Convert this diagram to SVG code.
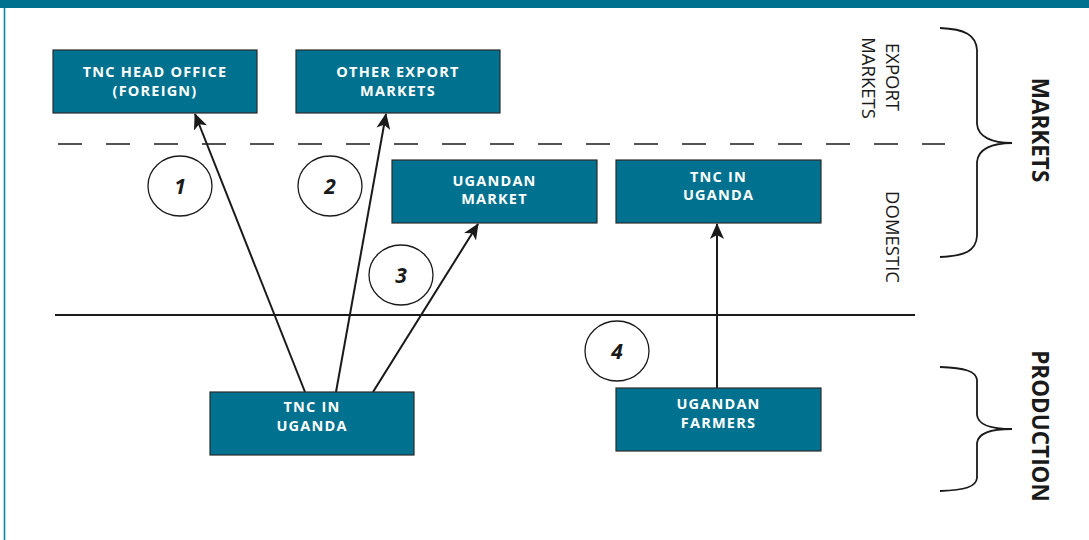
<svg xmlns="http://www.w3.org/2000/svg" width="1089" height="540" viewBox="0 0 1089 540">
<style>
.box rect{fill:#00728f;stroke:#2b2b2b;stroke-width:1.2}
.box text{fill:#fff;font-family:"Open Sans","Noto Sans",sans-serif;font-weight:700;font-size:14.5px;letter-spacing:1.2px;text-anchor:middle}
.num ellipse{fill:#fff;stroke:#1a1a1a;stroke-width:1.3}
.num text{font-family:"Open Sans","Noto Sans",sans-serif;font-weight:700;font-style:italic;font-size:21px;fill:#1a1a1a;text-anchor:middle}
.conn line{stroke:#1a1a1a;stroke-width:2}
.side{font-family:"Open Sans","Noto Sans",sans-serif;font-size:18.5px;fill:#1a1a1a;text-anchor:middle}
.big{font-family:"Open Sans","Noto Sans",sans-serif;font-weight:700;font-size:22.5px;fill:#1a1a1a;text-anchor:middle}
.brace{fill:none;stroke:#1a1a1a;stroke-width:1.8}
</style>
<defs>
<marker id="ah" viewBox="0 0 16 14" refX="15" refY="7" markerWidth="16" markerHeight="14" markerUnits="userSpaceOnUse" orient="auto">
<path d="M0,0 L16,7 L0,14 L4,7 Z" fill="#1a1a1a"/>
</marker>
</defs>
<rect x="0" y="0" width="1089" height="540" fill="#fff"/>
<rect x="0" y="0" width="1089" height="8" fill="#00728f"/>
<line x1="4.5" y1="8" x2="4.5" y2="540" stroke="#0a86a8" stroke-width="1.6"/>
<line x1="58" y1="144" x2="945" y2="144" stroke="#1a1a1a" stroke-width="1.6" stroke-dasharray="24 24"/>
<line x1="55" y1="315" x2="915" y2="315" stroke="#1a1a1a" stroke-width="1.8"/>
<g id="connectors" class="conn">
<line x1="305" y1="392" x2="195" y2="114" marker-end="url(#ah)"/>
<line x1="336" y1="392" x2="386" y2="114" marker-end="url(#ah)"/>
<line x1="373" y1="392" x2="478" y2="224" marker-end="url(#ah)"/>
<line x1="717" y1="388" x2="717" y2="224" marker-end="url(#ah)"/>
</g>
<g id="tnc-head-office" class="box"><rect x="53" y="50" width="204" height="63"/><text x="155" y="77">TNC HEAD OFFICE</text><text x="155" y="96">(FOREIGN)</text></g>
<g id="other-export-markets" class="box"><rect x="296" y="50" width="204" height="63"/><text x="398" y="77">OTHER EXPORT</text><text x="398" y="96">MARKETS</text></g>
<g id="ugandan-market" class="box"><rect x="392" y="160" width="205" height="63"/><text x="494.5" y="186">UGANDAN</text><text x="494.5" y="204">MARKET</text></g>
<g id="tnc-in-uganda-domestic" class="box"><rect x="616" y="160" width="205" height="63"/><text x="718.5" y="182">TNC IN</text><text x="718.5" y="200">UGANDA</text></g>
<g id="tnc-in-uganda" class="box"><rect x="210" y="392" width="204" height="63"/><text x="312" y="412">TNC IN</text><text x="312" y="431">UGANDA</text></g>
<g id="ugandan-farmers" class="box"><rect x="616" y="388" width="205" height="63"/><text x="718.5" y="409">UGANDAN</text><text x="718.5" y="428">FARMERS</text></g>
<g id="label-1" class="num"><ellipse cx="180" cy="186" rx="32" ry="30"/><text x="180" y="194">1</text></g>
<g id="label-2" class="num"><ellipse cx="330" cy="186" rx="32" ry="30"/><text x="330" y="194">2</text></g>
<g id="label-3" class="num"><ellipse cx="401" cy="275" rx="32" ry="30"/><text x="401" y="283">3</text></g>
<g id="label-4" class="num"><ellipse cx="617" cy="351" rx="32" ry="30"/><text x="617" y="359">4</text></g>
<text class="side" transform="translate(886,77) rotate(90)">EXPORT</text>
<text class="side" transform="translate(862,78) rotate(90)">MARKETS</text>
<text class="side" transform="translate(886,237) rotate(90)">DOMESTIC</text>
<text class="big" transform="translate(1032,130) rotate(90)">MARKETS</text>
<text class="big" transform="translate(1032,426) rotate(90)">PRODUCTION</text>
<path class="brace" d="M940,28 C965,29 976,35 977,50 L977,124 C978,137 992,143 1012,143 C992,143 978,149 977,162 L977,236 C976,251 965,256 940,257"/>
<path class="brace" d="M940,367 C965,368 976,371 977,380 L977,415 C978,425 992,429 1012,429 C992,429 978,433 977,443 L977,478 C976,487 965,490 940,491"/>
</svg>
